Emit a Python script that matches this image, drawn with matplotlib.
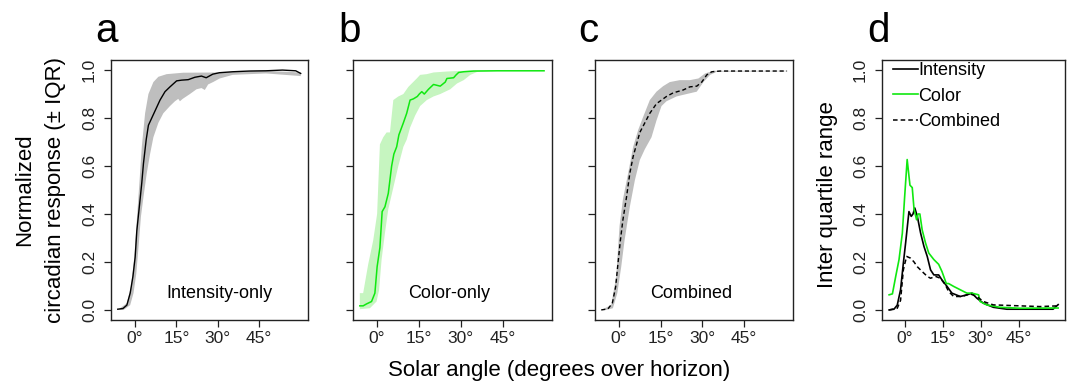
import numpy as np
import matplotlib
matplotlib.use('Agg')
import matplotlib.pyplot as plt

plt.rcParams['font.family'] = ['Liberation Sans', 'DejaVu Sans']

# panel a: intensity-only (median and IQR band)
a_med_x = [-6.2, -4.3, -2.9, -1.7, -0.7, 0.1, 0.7, 1.7, 2.5, 3.1, 4.1, 4.9, 6.1, 7.3, 9.1, 10.9, 12.7,
           15.1, 16.9, 19.3, 21.7, 24.1, 25.8, 28.2, 30.6, 35.4, 41.4, 47.4, 53.4, 58.2, 60.0]
a_med_y = [0.003, 0.006, 0.02, 0.07, 0.14, 0.22, 0.33, 0.44, 0.53, 0.61, 0.71, 0.77, 0.80, 0.83, 0.875, 0.91, 0.93,
           0.955, 0.958, 0.96, 0.97, 0.975, 0.968, 0.983, 0.989, 0.993, 0.996, 0.997, 1.0, 0.997, 0.986]
a_up_x = [-6.2, -2.9, -1.4, -0.2, 0.7, 1.7, 2.5, 3.7, 4.9, 6.7, 8.5, 11.5, 17.5, 30.7, 45.0, 60.0]
a_up_y = [0.0, 0.028, 0.097, 0.22, 0.375, 0.54, 0.68, 0.82, 0.90, 0.95, 0.972, 0.983, 0.989, 0.99, 0.998, 0.99]
a_lo_x = [-6.2, -4.1, -1.7, -0.5, 0.5, 1.3, 2.2, 3.1, 4.3, 5.5, 6.7, 8.5, 10.3, 12.7, 14.5, 15.7, 16.3, 17.3,
          19.9, 22.3, 24.1, 25.3, 26.5, 28.3, 30.7, 35.4, 47.4, 60.0]
a_lo_y = [0.0, 0.0, 0.02, 0.07, 0.15, 0.26, 0.39, 0.47, 0.57, 0.65, 0.72, 0.78, 0.82, 0.85, 0.87, 0.88, 0.87, 0.88,
          0.90, 0.92, 0.925, 0.917, 0.94, 0.95, 0.965, 0.98, 0.986, 0.975]

# panel b: color-only
b_med_x = [-6.2, -5.0, -3.8, -2.0, -0.8, 0.0, 1.0, 1.8, 2.8, 4.0, 5.2, 6.0, 7.0, 7.8, 9.4, 10.6, 11.8, 13.0,
           14.4, 15.1, 16.0, 16.9, 18.4, 20.2, 22.6, 24.4, 25.0, 27.4, 28.3, 29.2, 31.0, 34.6, 43.0, 59.8]
b_med_y = [0.017, 0.017, 0.025, 0.035, 0.07, 0.18, 0.26, 0.41, 0.43, 0.486, 0.60, 0.65, 0.68, 0.73, 0.78, 0.82,
           0.875, 0.88, 0.89, 0.90, 0.91, 0.90, 0.92, 0.94, 0.933, 0.95, 0.965, 0.968, 0.98, 0.99, 0.993, 0.996,
           0.997, 0.997]
b_up_x = [-6.2, -5.0, -3.2, -1.4, 0.0, 1.0, 2.2, 3.4, 4.6, 5.8, 7.6, 9.4, 11.2, 14.2, 15.4, 17.8, 20.2, 25.0,
          31.0, 59.8]
b_up_y = [0.07, 0.07, 0.19, 0.29, 0.40, 0.69, 0.72, 0.74, 0.74, 0.875, 0.89, 0.90, 0.93, 0.965, 0.98, 0.983,
          0.99, 0.994, 0.997, 0.998]
b_lo_x = [-6.2, -2.6, -0.2, 0.7, 1.6, 2.8, 4.0, 5.8, 7.6, 9.4, 10.6, 11.8, 13.6, 15.4, 17.8, 20.2, 22.6, 26.2,
          28.6, 31.0, 33.4, 35.8, 43.0, 59.8]
b_lo_y = [0.003, 0.007, 0.035, 0.083, 0.21, 0.32, 0.42, 0.51, 0.60, 0.68, 0.71, 0.76, 0.81, 0.85, 0.875, 0.89,
          0.90, 0.92, 0.944, 0.958, 0.98, 0.992, 0.996, 0.996]

# panel c: combined
c_med_x = [-6.4, -4.0, -2.4, -1.2, -0.4, 0.5, 1.4, 2.7, 3.9, 5.1, 6.3, 7.5, 9.3, 11.1, 13.5, 15.3, 17.1, 19.5,
           23.1, 25.5, 28.0, 29.8, 31.6, 33.4, 36.4, 60.5]
c_med_y = [0.0, 0.004, 0.028, 0.097, 0.19, 0.29, 0.375, 0.47, 0.57, 0.64, 0.69, 0.74, 0.78, 0.82, 0.86, 0.875,
           0.89, 0.905, 0.917, 0.93, 0.933, 0.95, 0.98, 0.993, 0.996, 0.996]
c_up_x = [-6.4, -2.8, -1.0, 0.2, 1.4, 3.3, 5.1, 6.9, 8.7, 11.1, 13.5, 15.9, 18.3, 21.9, 25.5, 28.6, 31.0, 34.0,
          60.5]
c_up_y = [0.0, 0.02, 0.14, 0.35, 0.46, 0.57, 0.68, 0.75, 0.805, 0.875, 0.91, 0.933, 0.95, 0.958, 0.958, 0.965,
          0.986, 0.997, 0.997]
c_lo_x = [-6.4, -4.6, -2.2, -0.6, 0.8, 2.0, 3.9, 5.7, 7.5, 9.3, 11.7, 13.5, 15.3, 17.1, 20.7, 24.3, 28.0, 30.4,
          32.8, 35.2, 60.5]
c_lo_y = [0.0, 0.0, 0.007, 0.07, 0.18, 0.29, 0.43, 0.54, 0.625, 0.67, 0.72, 0.79, 0.85, 0.87, 0.89, 0.90, 0.91,
          0.95, 0.98, 0.993, 0.995]

# panel d: inter quartile range
d_int_x = [-6.1, -4.2, -2.9, -1.6, -0.5, 0.4, 1.7, 2.6, 3.3, 4.0, 5.0, 6.3, 7.6, 8.9, 10.2, 11.5, 13.4, 14.7,
           16.7, 18.6, 21.9, 24.5, 26.5, 28.4, 31.0, 34.9, 40.2, 58.4, 60.4]
d_int_y = [0.0, 0.003, 0.02, 0.084, 0.195, 0.28, 0.41, 0.39, 0.40, 0.425, 0.39, 0.32, 0.265, 0.223, 0.167, 0.146,
           0.146, 0.125, 0.098, 0.07, 0.056, 0.063, 0.07, 0.049, 0.028, 0.011, 0.003, 0.003, 0.022]
d_col_x = [-6.1, -4.8, -3.5, -2.2, -0.9, 0.0, 1.0, 2.1, 3.0, 3.7, 4.7, 5.3, 6.0, 6.9, 8.2, 9.5, 11.5, 13.4,
           14.7, 16.4, 17.3, 19.3, 21.9, 24.5, 26.5, 29.1, 29.7, 32.3, 37.5, 45.4, 60.4]
d_col_y = [0.063, 0.067, 0.14, 0.21, 0.32, 0.47, 0.627, 0.52, 0.51, 0.42, 0.376, 0.40, 0.40, 0.334, 0.28, 0.237,
           0.21, 0.19, 0.16, 0.11, 0.11, 0.098, 0.084, 0.07, 0.07, 0.063, 0.035, 0.021, 0.011, 0.007, 0.008]
d_com_x = [-6.1, -2.9, -1.6, -0.5, 0.0, 0.8, 2.3, 3.7, 5.0, 6.9, 8.9, 10.2, 12.1, 14.1, 16.0, 17.3, 19.3, 22.6,
           25.8, 28.4, 31.0, 34.9, 42.8, 53.2, 60.4]
d_com_y = [0.0, 0.007, 0.04, 0.167, 0.19, 0.223, 0.216, 0.2, 0.18, 0.16, 0.14, 0.132, 0.14, 0.132, 0.105, 0.077,
           0.056, 0.056, 0.067, 0.056, 0.035, 0.021, 0.018, 0.014, 0.017]

x_ticks = [0, 15, 30, 45]
x_tick_labels = ['0°', '15°', '30°', '45°']
y_ticks = [0.0, 0.2, 0.4, 0.6, 0.8, 1.0]
y_tick_labels = ['0.0', '0.2', '0.4', '0.6', '0.8', '1.0']

GREEN = '#10E810'
LIGHT_GREEN = '#C6F5C0'
GRAY = '#BEBEBE'
INK = '#222222'

fig = plt.figure(figsize=(10.72, 3.83), dpi=100)
W, H = 1072, 383


def make_ax(left, right, xlim=(-8.64, 62.64), ylabels=False):
    ax = fig.add_axes([left / W, (H - 320) / H, (right - left) / W, 260 / H])
    ax.set_xlim(*xlim)
    ax.set_ylim(-0.042, 1.042)
    ax.set_xticks(x_ticks)
    ax.set_xticklabels(x_tick_labels)
    ax.set_yticks(y_ticks)
    if ylabels:
        ax.set_yticklabels(y_tick_labels)
        plt.setp(ax.get_yticklabels(), rotation=90, va='center')
    else:
        ax.set_yticklabels([])
    ax.tick_params(direction='out', length=5, width=0.9, labelsize=12.5, colors=INK)
    ax.tick_params(axis='x', pad=3)
    ax.tick_params(axis='y', pad=5)
    for s in ax.spines.values():
        s.set_linewidth(1.0)
        s.set_color(INK)
    return ax


def band(ax, ux, uy, lx, ly, color):
    ax.fill(np.concatenate([ux, lx[::-1]]), np.concatenate([uy, ly[::-1]]),
            color=color, lw=0)


ax_a = make_ax(111, 308, ylabels=True)
band(ax_a, a_up_x, a_up_y, a_lo_x, a_lo_y, GRAY)
ax_a.plot(a_med_x, a_med_y, color='black', lw=1.0)
ax_a.text(30.6, 0.07, 'Intensity-only', fontsize=13, ha='center', va='center')

ax_b = make_ax(353, 552)
band(ax_b, b_up_x, b_up_y, b_lo_x, b_lo_y, LIGHT_GREEN)
ax_b.plot(b_med_x, b_med_y, color=GREEN, lw=1.1)
ax_b.text(25.9, 0.07, 'Color-only', fontsize=13, ha='center', va='center')

ax_c = make_ax(595, 793)
band(ax_c, c_up_x, c_up_y, c_lo_x, c_lo_y, GRAY)
ax_c.plot(c_med_x, c_med_y, color='black', lw=1.0, ls=(0, (3, 2)))
ax_c.text(26.1, 0.07, 'Combined', fontsize=13, ha='center', va='center')

ax_d = make_ax(882, 1065, xlim=(-8.9, 63.1), ylabels=True)
ax_d.plot(d_int_x, d_int_y, color='black', lw=1.2, label='Intensity')
ax_d.plot(d_col_x, d_col_y, color=GREEN, lw=1.2, label='Color')
ax_d.plot(d_com_x, d_com_y, color='black', lw=1.1, ls=(0, (3, 2)), label='Combined')
ax_d.legend(loc='upper left', frameon=False, fontsize=13, handlelength=1.4, handletextpad=0.0,
            labelspacing=0.47, borderaxespad=0.0, bbox_to_anchor=(0.02, 1.02))

# panel letters
for px, letter in [(95, 'a'), (338, 'b'), (578, 'c'), (867, 'd')]:
    fig.text(px / W, (H - 42) / H, letter, fontsize=29, ha='left', va='baseline')

fig.text(40 / W, (H - 190) / H, 'Normalized\ncircadian response (± IQR)', rotation=90,
         fontsize=16, ha='center', va='center', linespacing=1.6)
fig.text(827 / W, (H - 195) / H, 'Inter quartile range', rotation=90,
         fontsize=16, ha='center', va='center')
fig.text(388 / W, (H - 376) / H, 'Solar angle (degrees over horizon)',
         fontsize=16, ha='left', va='baseline')

plt.savefig('out.png', dpi=100)
